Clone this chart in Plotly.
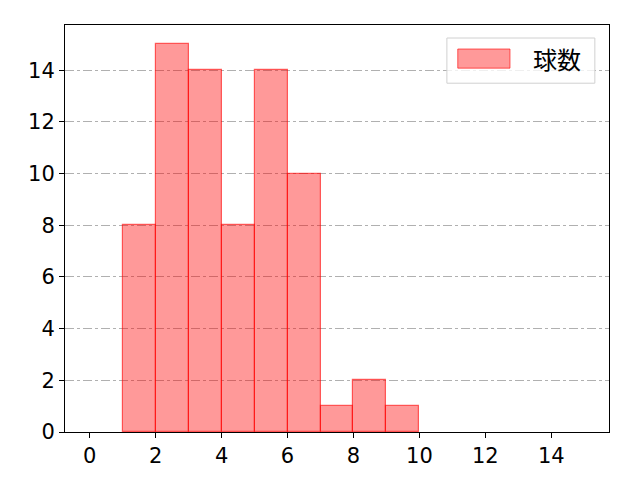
import plotly.graph_objects as go

# Histogram bins (left edges) and counts
bin_left = [1, 2, 3, 4, 5, 6, 7, 8, 9]
counts = [8, 15, 14, 8, 14, 10, 1, 2, 1]
x_ticks = [0, 2, 4, 6, 8, 10, 12, 14]
y_ticks = [0, 2, 4, 6, 8, 10, 12, 14]
series_name = "球数"

centers = [b + 0.5 for b in bin_left]
bar_fill = "rgba(255,0,0,0.4)"
bar_edge = "rgba(255,0,0,0.6)"
font_jp = "Noto Sans CJK JP"

fig = go.Figure()
fig.add_trace(go.Bar(
    x=centers, y=counts, width=1, name=series_name,
    marker=dict(color=bar_fill, line=dict(color=bar_edge, width=1.2)),
    showlegend=False,
))

axis_common = dict(
    showline=True, linecolor="black", linewidth=1, mirror=True,
    ticks="outside", ticklen=5, tickcolor="black",
    tickfont=dict(family="DejaVu Sans", size=21, color="black"),
    zeroline=False,
)
fig.update_xaxes(range=[-0.75, 15.75], tickvals=x_ticks, showgrid=False, **axis_common)
fig.update_yaxes(range=[0, 15.75], tickvals=y_ticks, showgrid=True,
                 gridcolor="#b0b0b0", griddash="dashdot", gridwidth=1, **axis_common)

# legend box drawn like matplotlib's (wide swatch)
fig.add_shape(type="rect", xref="paper", yref="paper", x0=0.702, x1=0.974, y0=0.857, y1=0.968,
              line=dict(color="#d0d0d0", width=1), fillcolor="rgba(255,255,255,0.8)", layer="above")
fig.add_shape(type="rect", xref="paper", yref="paper", x0=0.722, x1=0.818, y0=0.894, y1=0.941,
              line=dict(color=bar_edge, width=1), fillcolor=bar_fill, layer="above")
fig.add_annotation(text=series_name, xref="paper", yref="paper", x=0.856, y=0.917,
                   xanchor="left", yanchor="middle", showarrow=False,
                   font=dict(family=font_jp, size=24, color="black"))

fig.update_layout(
    width=640, height=480,
    margin=dict(l=57, r=39, t=17, b=56),
    plot_bgcolor="white", paper_bgcolor="white",
    bargap=0,
)

fig.write_html("out.html")
